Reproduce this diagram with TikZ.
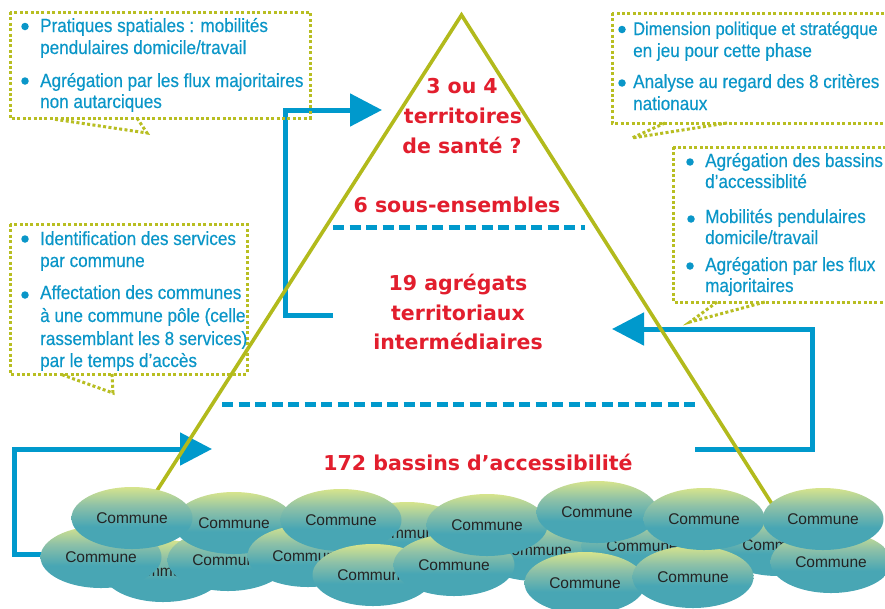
\documentclass[tikz,border=0pt]{standalone}
\usepackage{fontspec}
\setmainfont{Liberation Sans}
\newfontfamily\redfont{DejaVu Sans}
\newfontfamily\bluefont[FakeStretch=0.9,FakeBold=0.4]{Liberation Sans}
\newfontfamily\commfont{Liberation Sans}
\usetikzlibrary{arrows.meta,shapes.geometric}
\definecolor{pyrcol}{RGB}{178,186,28}
\definecolor{dotcol}{RGB}{184,190,34}
\definecolor{bluecol}{RGB}{0,153,204}
\definecolor{txtblue}{RGB}{10,150,200}
\definecolor{redcol}{RGB}{226,30,45}
\definecolor{commtxt}{RGB}{35,35,35}
\definecolor{ctop}{RGB}{214,228,140}
\definecolor{cmid}{RGB}{140,192,168}
\definecolor{cbot}{RGB}{72,166,180}
\pgfdeclareverticalshading{commshade}{100bp}{color(0bp)=(cbot); color(25bp)=(cbot); color(43bp)=(cbot); color(60bp)=(cmid); color(75bp)=(ctop); color(100bp)=(ctop)}
\tikzset{
  pyr/.style={draw=pyrcol, line width=3.6pt, line join=miter},
  bluearrow/.style={draw=bluecol, line width=5pt, -{Triangle[length=32pt,width=32pt]}},
  bluedash/.style={draw=bluecol, line width=5pt, dash pattern=on 11pt off 5.5pt},
  dotbox/.style={draw=dotcol, line width=3pt, dash pattern=on 3pt off 2.4pt},
  bul/.style={circle, fill=txtblue, inner sep=0pt, minimum size=7.5pt},
  bt/.style={anchor=base west, inner sep=0pt, text=txtblue, font=\bluefont\fontsize{19}{22}\selectfont},
  rt/.style={anchor=base, inner sep=0pt, text=redcol, font=\redfont\bfseries\fontsize{20.5}{24}\selectfont},
  comm/.style={ellipse, minimum width=121pt, minimum height=62pt, inner sep=0pt, shade, shading=commshade, text=commtxt, font=\commfont\fontsize{15.5}{18}\selectfont},
}
\begin{document}
\begin{tikzpicture}[x=1pt,y=-1pt]
\useasboundingbox (0,0) rectangle (885,608);
\fill[white] (0,0) rectangle (885,608);
\clip (0,0) rectangle (885,608);

% blue bracket arrows
\coordinate (a0) at (333,315.5);
\coordinate (a1) at (285.5,315.5);
\coordinate (a2) at (285.5,110);
\coordinate (a3) at (382,110);
\draw[bluearrow] (a0) -- (a1) -- (a2) -- (a3);
\coordinate (b0) at (695,449);
\coordinate (b1) at (812.5,449);
\coordinate (b2) at (812.5,329);
\coordinate (b3) at (612,329);
\draw[bluearrow] (b0) -- (b1) -- (b2) -- (b3);
\coordinate (d0) at (45,554);
\coordinate (d1) at (14,554);
\coordinate (d2) at (14,449);
\coordinate (d3) at (212,449);
\draw[bluearrow] (d0) -- (d1) -- (d2) -- (d3);

% pyramid
\coordinate (apex) at (461.5,15);
\coordinate (pl) at (154.8,494);
\coordinate (pr) at (775.8,510);
\draw[pyr] (pl) -- (apex) -- (pr);

% dashed separators
\coordinate (s1a) at (333,227);
\coordinate (s1b) at (585,227);
\coordinate (s2a) at (222,404);
\coordinate (s2b) at (695,404);
\draw[bluedash] (s1a) -- (s1b);
\draw[bluedash] (s2a) -- (s2b);

% callout boxes
\draw[dotbox] (10,12) rectangle (310,118);
\draw[dotbox] (137,118) -- (147,133) -- (53,119);
\draw[dotbox] (612,13) rectangle (900,123);
\draw[dotbox] (665,123) -- (632,138) -- (727,123);
\draw[dotbox] (673,147) rectangle (900,302);
\draw[dotbox] (717,302) -- (690,322) -- (765,302);
\draw[dotbox] (10,224) rectangle (247,374);
\draw[dotbox] (112,374) -- (113,393) -- (60,374);

% callout texts: top left
\node[bul] (tlb1) at (25,26.5) {};
\node[bt] (tl1) at (40,32) {Pratiques spatiales : mobilités};
\node[bt] (tl2) at (40,54) {pendulaires domicile/travail};
\node[bul] (tlb2) at (25,81) {};
\node[bt] (tl3) at (40,87) {Agrégation par les flux majoritaires};
\node[bt] (tl4) at (40,108) {non autarciques};
% top right
\node[bul] (trb1) at (622,29.5) {};
\node[bt, font=\bluefont\fontsize{18.3}{22}\selectfont] (tr1) at (633,35) {Dimension politique et stratégque};
\node[bt] (tr2) at (633,57) {en jeu pour cette phase};
\node[bul] (trb2) at (622,83) {};
\node[bt] (tr3) at (633,88) {Analyse au regard des 8 critères};
\node[bt] (tr4) at (633,110) {nationaux};
% right middle
\node[bul] (rmb1) at (690,162) {};
\node[bt] (rm1) at (705,167) {Agrégation des bassins};
\node[bt] (rm2) at (705,188) {d’accessiblité};
\node[bul] (rmb2) at (691,219) {};
\node[bt] (rm3) at (705,223) {Mobilités pendulaires};
\node[bt] (rm4) at (705,244) {domicile/travail};
\node[bul] (rmb3) at (690,266) {};
\node[bt] (rm5) at (705,271) {Agrégation par les flux};
\node[bt] (rm6) at (705,292) {majoritaires};
% left middle
\node[bul] (lmb1) at (25,239) {};
\node[bt] (lm1) at (40,245) {Identification des services};
\node[bt] (lm2) at (40,267) {par commune};
\node[bul] (lmb2) at (25,295) {};
\node[bt] (lm3) at (40,299) {Affectation des communes};
\node[bt] (lm4) at (40,322) {à une commune pôle (celle};
\node[bt] (lm5) at (40,345) {rassemblant les 8 services)};
\node[bt] (lm6) at (40,367) {par le temps d’accès};

% red level texts
\node[rt] (r1) at (462,93) {3 ou 4};
\node[rt] (r2) at (463,123) {territoires};
\node[rt] (r3) at (462,153) {de santé ?};
\node[rt] (r4) at (457,212) {6 sous-ensembles};
\node[rt] (r5) at (458,290) {19 agrégats};
\node[rt] (r6) at (458,320) {territoriaux};
\node[rt] (r7) at (458,349) {intermédiaires};
\node[rt] (r8) at (478,470) {172 bassins d’accessibilité};

% communes (back to front)
\node[comm] (c1) at (163,571) {Commune};
\node[comm] (c2) at (101,557) {Commune};
\node[comm] (c3) at (228,560) {Commune};
\node[comm] (c4) at (234,523) {Commune};
\node[comm] (c5) at (132,518) {Commune};
\node[comm] (c6) at (407,533) {Commune};
\node[comm] (c7) at (308,556) {Commune};
\node[comm] (c8) at (341,520) {Commune};
\node[comm] (c9) at (373,575) {Commune};
\node[comm] (c10) at (536,550) {Commune};
\node[comm] (c11) at (454,565) {Commune};
\node[comm] (c12) at (487,525) {Commune};
\node[comm] (c13) at (642,546) {Commune};
\node[comm] (c14) at (585,583) {Commune};
\node[comm] (c15) at (597,512) {Commune};
\node[comm] (c16) at (778,545) {Commune};
\node[comm] (c17) at (693,577) {Commune};
\node[comm] (c18) at (704,519) {Commune};
\node[comm] (c19) at (831,562) {Commune};
\node[comm] (c20) at (823,519) {Commune};
\end{tikzpicture}
\end{document}
